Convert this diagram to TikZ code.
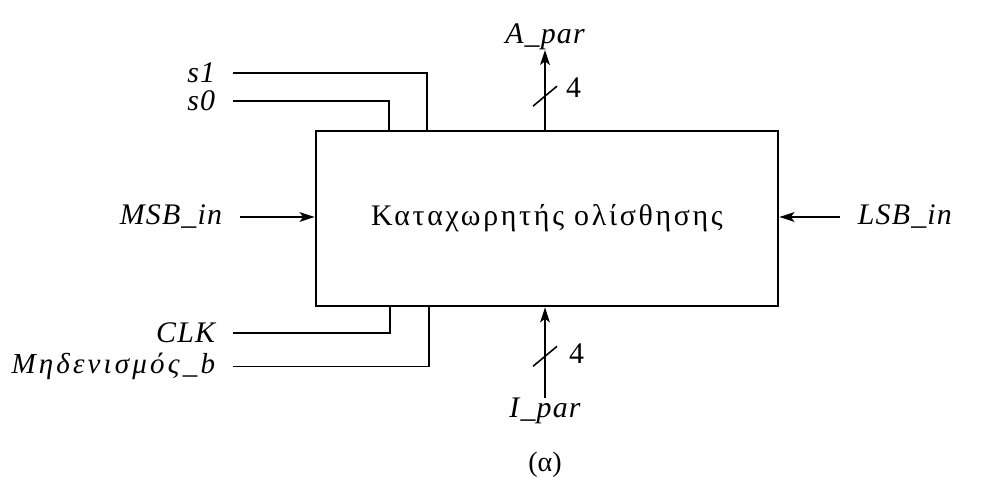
\documentclass[tikz,border=0pt]{standalone}
\usepackage{fontspec}
\setmainfont{Liberation Serif}
\newfontfamily\widegreek[LetterSpace=9]{Liberation Serif}
\newfontfamily\widelabel[LetterSpace=4]{Liberation Serif}
\newfontfamily\widerlabel[LetterSpace=11]{Liberation Serif}
\usepackage{tikz}
\usetikzlibrary{
	arrows.meta,
	positioning,
	calc
}

\begin{document}
\begin{tikzpicture}[
					regbox/.style={
							rectangle,
							draw=black,
							line width=1.6pt,
							minimum width=9.24cm,
							minimum height=3.5cm,
							font=\widegreek\fontsize{17}{20}\selectfont
						},
					sig/.style={
							font=\widelabel\fontsize{17}{20}\selectfont\itshape,
							inner xsep=10pt,
							inner ysep=0pt
						},
					wire/.style={
							line width=1.1pt
						},
					slash/.style={
							line width=0.9pt
						},
					>={Stealth[length=8.5pt,width=5.5pt,inset=2pt]}
				]
				\useasboundingbox (0,0) rectangle (19.98,-9.62);

				\node[regbox] (reg) at (10.94,-4.37) {Καταχωρητής ολίσθησης};

				% control inputs above the register
				\node[sig, anchor=east] (s1) at (4.66,-1.46) {s1};
				\node[sig, anchor=east] (s0) at (4.66,-2.02) {s0};
				\draw[wire] (s1.east) -| ($(reg.north west)+(2.24,0)$);
				\draw[wire] (s0.east) -| ($(reg.north west)+(1.48,0)$);

				% serial inputs
				\node[sig, anchor=east] (MSB) at (4.8,-4.34) {MSB\_in};
				\node[sig, anchor=west] (LSB) at (16.8,-4.34) {LSB\_in};
				\draw[wire, ->] (MSB.east) -- (MSB.east -| reg.west);
				\draw[wire, ->] (LSB.west) -- (LSB.west -| reg.east);

				% clock and reset below the register
				\node[sig, anchor=east] (CLK) at (4.66,-6.66) {CLK};
				\node[sig, font=\widerlabel\fontsize{16.5}{19}\selectfont\itshape, anchor=east] (clr) at (4.66,-7.33) {Μηδενισμός\_b};
				\draw[wire] (CLK.east) -| ($(reg.south west)+(1.50,0)$);
				\draw[wire] (clr.east) -| ($(reg.south west)+(2.28,0)$);

				% parallel output
				\node[sig, inner xsep=2pt, anchor=south] (Apar) at (10.9,-1.0) {A\_par};
				\draw[wire, ->] (Apar.south |- reg.north) -- (Apar.south)
				coordinate[pos=0.42] (Aslash);
				\draw[slash] ($(Aslash)+(-0.24,-0.2)$) -- ($(Aslash)+(0.24,0.2)$);
				\node[font=\fontsize{17}{20}\selectfont, anchor=west] (Aw) at ($(Aslash)+(0.3,0.16)$) {4};

				% parallel input
				\node[sig, inner xsep=2pt, anchor=north] (Ipar) at (10.9,-7.96) {I\_par};
				\draw[wire, ->] (Ipar.north) -- (Ipar.north |- reg.south)
				coordinate[pos=0.46] (Islash);
				\draw[slash] ($(Islash)+(-0.24,-0.2)$) -- ($(Islash)+(0.24,0.2)$);
				\node[font=\fontsize{17}{20}\selectfont, anchor=west] (Iw) at ($(Islash)+(0.36,0.06)$) {4};

				\node[font=\fontsize{16}{19}\selectfont] (cap) at (10.9,-9.3) {(α)};
		\end{tikzpicture}
\end{document}
